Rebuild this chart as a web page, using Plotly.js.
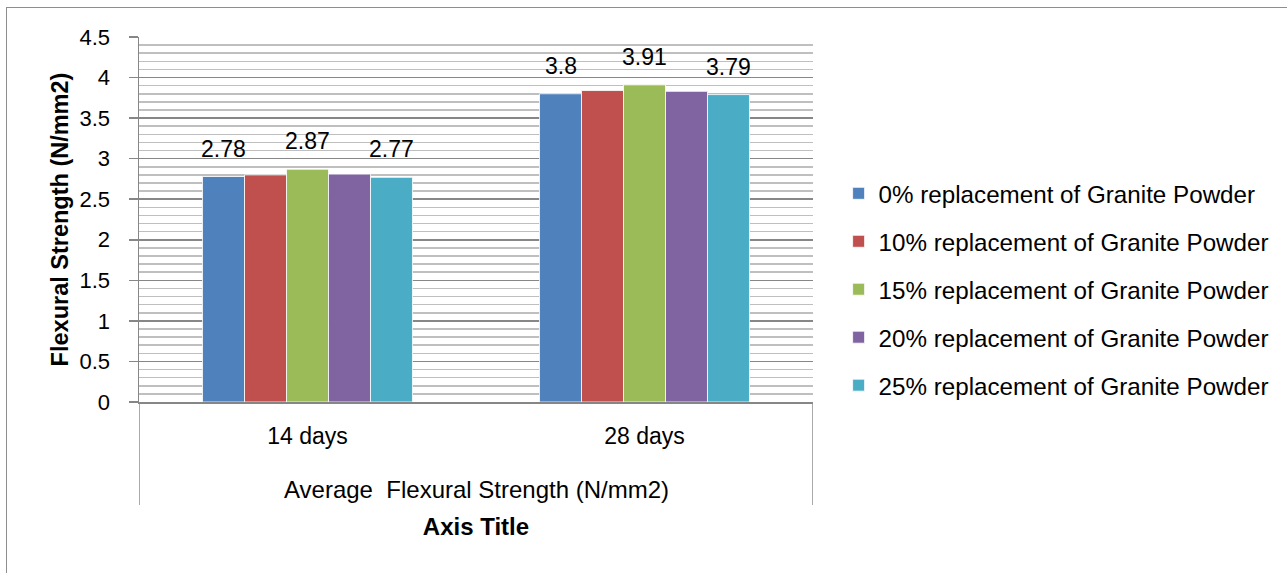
<!DOCTYPE html>
<html>
<head>
<meta charset="utf-8">
<script src="https://cdn.plot.ly/plotly-3.0.1.min.js"></script>
<style>
  html, body { margin: 0; padding: 0; background: #fff; overflow: hidden; }
  #frame { position: absolute; left: 6px; top: 7px; width: 1400px; height: 700px;
           border: 1.5px solid #8e8e8e; box-sizing: border-box; }
  #chart { position: absolute; left: 0; top: 0; width: 1287px; height: 573px; }
</style>
</head>
<body>
<div id="frame"></div>
<div id="chart"></div>
<script>
// Curing ages (category axis) and the label of the category group
const ages = ['14 days', '28 days'];
const groupLabel = 'Average\u00a0 Flexural Strength (N/mm2)';

// Average flexural strength (N/mm2) for each granite powder replacement level
const gp0  = [2.78, 3.80];
const gp10 = [2.80, 3.84];
const gp15 = [2.87, 3.91];
const gp20 = [2.81, 3.83];
const gp25 = [2.77, 3.79];

const seriesNames = [
  '0% replacement of Granite Powder',
  '10% replacement of Granite Powder',
  '15% replacement of Granite Powder',
  '20% replacement of Granite Powder',
  '25% replacement of Granite Powder'
];
const seriesValues = [gp0, gp10, gp15, gp20, gp25];
const seriesColors = ['#4F81BD', '#C0504D', '#9BBB59', '#8064A2', '#4BACC6'];
// Series whose values carry a data label
const labelledSeries = [true, false, true, false, true];

const FONT = 'Liberation Sans, Arial, sans-serif';
const TXT = '#000000';
const AXIS_GRAY = '#868686';
const BARGAP = 0.377;

const traces = seriesValues.map((vals, i) => ({
  type: 'bar',
  name: seriesNames[i],
  legendgroup: 'g' + i,
  x: ages,
  y: vals,
  marker: { color: seriesColors[i], line: { color: '#ffffff', width: 0.8 } },
  hoverinfo: 'skip'
}));

// Data labels above the bars: category index plus the grouped bar slot
const n = seriesValues.length;
const slot = (1 - BARGAP) / n;
const annotations = [];
seriesValues.forEach((vals, i) => {
  if (!labelledSeries[i]) return;
  vals.forEach((v, ci) => {
    annotations.push({
      xref: 'x', yref: 'y',
      x: ci + (i - (n - 1) / 2) * slot,
      y: v,
      text: String(v),
      showarrow: false,
      xanchor: 'center', yanchor: 'bottom',
      yshift: 13,
      font: { family: FONT, size: 23, color: TXT }
    });
  });
});

// Group label spanning both ages, below the age labels
annotations.push({
  xref: 'paper', yref: 'paper', x: 0.5, y: -0.241,
  xanchor: 'center', yanchor: 'middle',
  text: groupLabel, showarrow: false,
  font: { family: FONT, size: 24, color: TXT }
});

// Boundary lines of the category group box at both ends of the category range
const shapes = [-0.5, ages.length - 0.5].map(xv => ({
  type: 'line', xref: 'x', yref: 'paper',
  x0: xv, x1: xv, y0: 0, y1: -0.282,
  line: { color: '#8e8e8e', width: 1.5 }
}));

const layout = {
  width: 1287, height: 573,
  margin: { l: 139, r: 474, t: 37, b: 171, pad: 0, autoexpand: false },
  paper_bgcolor: 'rgba(0,0,0,0)',
  plot_bgcolor: '#ffffff',
  barmode: 'group',
  bargap: BARGAP,
  bargroupgap: 0,
  showlegend: true,
  font: { family: FONT, color: TXT },
  legend: {
    x: 1.038, xanchor: 'left',
    y: 0.308, yanchor: 'middle',
    font: { family: FONT, size: 24.2, color: TXT },
    tracegroupgap: 13.5,
    bgcolor: 'rgba(0,0,0,0)'
  },
  xaxis: {
    type: 'category',
    range: [-0.5, ages.length - 0.5],
    showline: true, linecolor: AXIS_GRAY, linewidth: 1.5,
    showgrid: false, zeroline: false,
    ticks: '',
    ticklabelstandoff: 13,
    tickfont: { family: FONT, size: 23, color: TXT },
    title: { text: '<b>Axis Title</b>', font: { family: FONT, size: 24, color: TXT }, standoff: 70 }
  },
  yaxis: {
    range: [0, 4.5],
    dtick: 0.5, tick0: 0,
    showline: true, linecolor: AXIS_GRAY, linewidth: 1.5,
    ticks: 'outside', ticklen: 9, tickwidth: 1.5, tickcolor: AXIS_GRAY,
    ticklabelstandoff: 14,
    tickfont: { family: FONT, size: 22, color: TXT },
    showgrid: true, gridcolor: '#878787', gridwidth: 1.5,
    minor: { dtick: 0.1, showgrid: true, gridcolor: '#bfbfbf', gridwidth: 1.5, ticks: '' },
    zeroline: false,
    title: { text: '<b>Flexural Strength (N/mm2)</b>', font: { family: FONT, size: 23.5, color: TXT }, standoff: 4 }
  },
  annotations: annotations,
  shapes: shapes
};

Plotly.newPlot('chart', traces, layout, { displayModeBar: false, staticPlot: true });
</script>
</body>
</html>
